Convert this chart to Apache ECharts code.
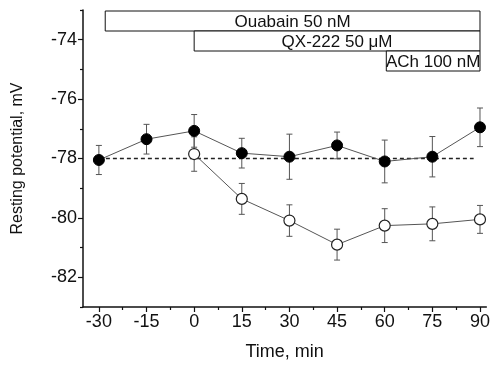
<!DOCTYPE html>
<html>
<head>
<meta charset="utf-8">
<script src="https://cdn.jsdelivr.net/npm/echarts@6/dist/echarts.min.js"></script>
<style>
  html, body { margin: 0; padding: 0; background: #fff; }
  #main { width: 493px; height: 366px; }
</style>
</head>
<body>
<div id="main"></div>
<script>
// time points, min
var times = [-30, -15, 0, 15, 30, 45, 60, 75, 90];
// control (filled circles), mean and SEM, mV
var filledMean = [-78.05, -77.35, -77.07, -77.82, -77.94, -77.56, -78.1, -77.94, -76.95];
var filledErr = [0.49, 0.5, 0.55, 0.5, 0.76, 0.45, 0.72, 0.68, 0.65];
// treated (open circles), starting at 0 min
var openTimes = [0, 15, 30, 45, 60, 75, 90];
var openMean = [-77.85, -79.36, -80.09, -80.9, -80.26, -80.2, -80.05];
var openErr = [0.58, 0.52, 0.53, 0.52, 0.57, 0.57, 0.47];
// dashed reference level
var baseline = [[-30, -78], [88, -78]];
// drug application periods
var drugNames = ["Ouabain 50 nM", "QX-222 50 \u03bcM", "ACh 100 nM"];
var drugStart = [-28, 0, 60.5];
var drugEnd = [90, 90, 90];
// axis ticks
var xTicks = [-30, -15, 0, 15, 30, 45, 60, 75, 90];
var xMinor = [-22.5, -7.5, 7.5, 22.5, 37.5, 52.5, 67.5, 82.5];
var yTicks = [-82, -80, -78, -76, -74];
var yMinor = [-83, -81, -79, -77, -75, -73];

var font = "Liberation Sans, Arial, sans-serif";
var chart = echarts.init(document.getElementById("main"));

function zip(xs, ys) {
  return xs.map(function (x, i) { return [x, ys[i]]; });
}
function withErr(xs, ys, es) {
  return xs.map(function (x, i) { return [x, ys[i], es[i]]; });
}

function errorBars(params, api) {
  var x = api.value(0), m = api.value(1), e = api.value(2);
  var hi = api.coord([x, m + e]);
  var lo = api.coord([x, m - e]);
  var w = 3;
  var style = { stroke: "#555", lineWidth: 1 };
  return {
    type: "group",
    children: [
      { type: "line", shape: { x1: hi[0], y1: hi[1], x2: lo[0], y2: lo[1] }, style: style },
      { type: "line", shape: { x1: hi[0] - w, y1: hi[1], x2: hi[0] + w, y2: hi[1] }, style: style },
      { type: "line", shape: { x1: lo[0] - w, y1: lo[1], x2: lo[0] + w, y2: lo[1] }, style: style }
    ]
  };
}

function drugBox(params, api) {
  var i = params.dataIndex;
  var a = api.coord([api.value(0), -73]);
  var b = api.coord([api.value(1), -73]);
  var top = a[1] + 1 + i * 20;
  var h = 20;
  return {
    type: "group",
    children: [
      { type: "rect", shape: { x: a[0], y: top, width: b[0] - a[0], height: h },
        style: { fill: "#fff", stroke: "#111", lineWidth: 1 } },
      { type: "text", x: (a[0] + b[0]) / 2, y: top + h / 2 + 1,
        style: { text: drugNames[i], fill: "#111", font: "17px " + font, align: "center", verticalAlign: "middle" } }
    ]
  };
}

var xBase = { type: "value", min: -35, max: 92, splitLine: { show: false } };
var yBase = { type: "value", min: -83, max: -73, splitLine: { show: false } };

chart.setOption({
  animation: false,
  grid: { left: 83, right: 5, top: 10, bottom: 57 },
  xAxis: [
    Object.assign({}, xBase, {
      position: "bottom",
      name: "Time, min",
      nameLocation: "middle",
      nameGap: 36,
      nameTextStyle: { fontFamily: font, fontSize: 18, color: "#111" },
      axisLine: { onZero: false, lineStyle: { color: "#111", width: 1.5 } },
      axisTick: { customValues: xTicks, length: 5, lineStyle: { color: "#111", width: 1.2 } },
      axisLabel: { customValues: xTicks, fontFamily: font, fontSize: 18, color: "#111", margin: 6 }
    }),
    Object.assign({}, xBase, {
      position: "bottom",
      axisLine: { show: false, onZero: false },
      axisTick: { customValues: xMinor, length: 3, lineStyle: { color: "#111", width: 1.2 } },
      axisLabel: { show: false }
    })
  ],
  yAxis: [
    Object.assign({}, yBase, {
      position: "left",
      name: "Resting potential, mV",
      nameLocation: "middle",
      nameGap: 57,
      nameTextStyle: { fontFamily: font, fontSize: 16, color: "#111" },
      axisLine: { show: true, onZero: false, lineStyle: { color: "#111", width: 1.5 } },
      axisTick: { show: true, customValues: yTicks, length: 5, lineStyle: { color: "#111", width: 1.2 } },
      axisLabel: { customValues: yTicks, fontFamily: font, fontSize: 18, color: "#111", margin: 6 }
    }),
    Object.assign({}, yBase, {
      position: "left",
      axisLine: { show: false, onZero: false },
      axisTick: { show: true, customValues: yMinor, length: 3, lineStyle: { color: "#111", width: 1.2 } },
      axisLabel: { show: false }
    })
  ],
  series: [
    {
      type: "line",
      data: baseline,
      symbol: "none",
      lineStyle: { color: "#222", width: 1.5, type: [4, 3] },
      z: 1
    },
    {
      type: "custom",
      data: withErr(times, filledMean, filledErr),
      renderItem: errorBars,
      z: 2
    },
    {
      type: "custom",
      data: withErr(openTimes, openMean, openErr),
      renderItem: errorBars,
      z: 2
    },
    {
      type: "line",
      data: zip(times, filledMean),
      symbol: "circle",
      symbolSize: 11,
      lineStyle: { color: "#555", width: 1 },
      itemStyle: { color: "#000", borderColor: "#000", borderWidth: 1 },
      z: 3
    },
    {
      type: "line",
      data: zip(openTimes, openMean),
      symbol: "circle",
      symbolSize: 11,
      lineStyle: { color: "#555", width: 1 },
      itemStyle: { color: "#fff", borderColor: "#222", borderWidth: 1.2 },
      z: 3
    },
    {
      type: "custom",
      data: drugStart.map(function (s, i) { return [s, drugEnd[i]]; }),
      encode: { x: [0, 1] },
      renderItem: drugBox,
      clip: false,
      z: 4
    }
  ]
});
</script>
</body>
</html>
